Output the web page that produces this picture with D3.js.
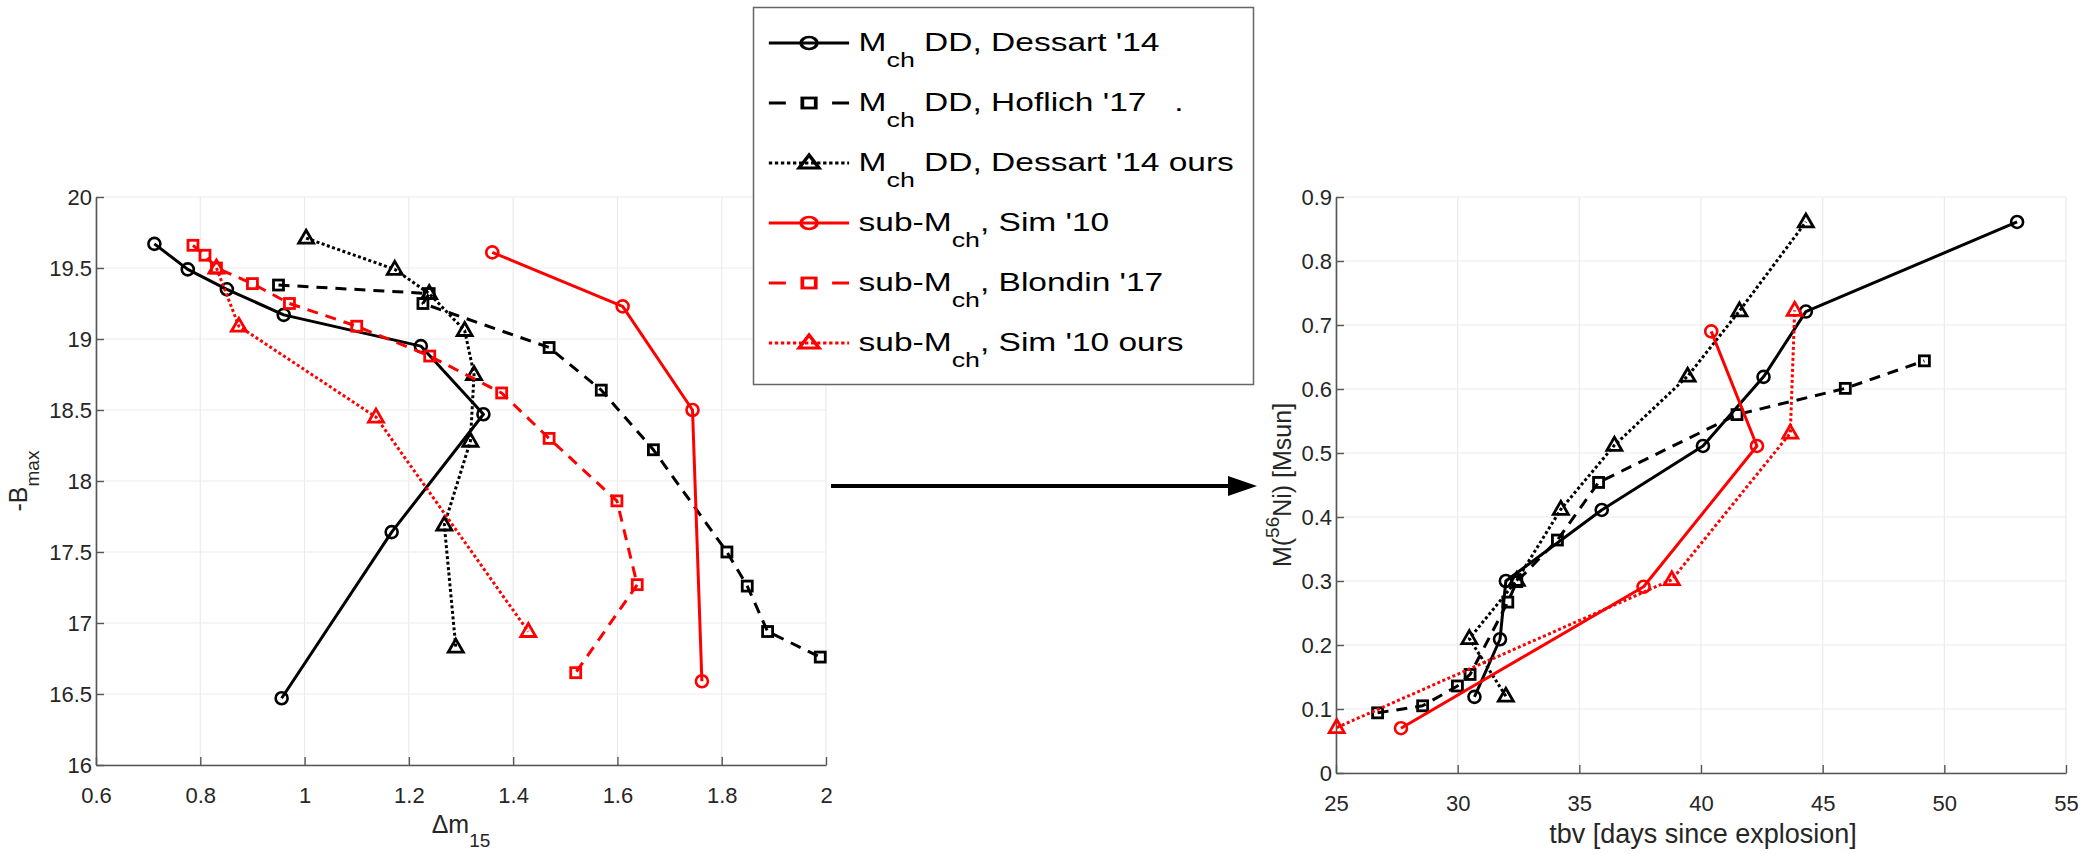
<!DOCTYPE html>
<html>
<head>
<meta charset="utf-8">
<script src="https://cdn.jsdelivr.net/npm/d3@7"></script>
<style>
  body { margin: 0; background: #fff; }
  text { font-family: "Liberation Sans", Arial, sans-serif; }
</style>
</head>
<body>
<div id="container"></div>
<script>
const width = 2084;
const height = 854;

// ---- left panel: -B_max vs delta m15 ----
const leftXTicks = [0.6, 0.8, 1, 1.2, 1.4, 1.6, 1.8, 2];
const leftYTicks = [16, 16.5, 17, 17.5, 18, 18.5, 19, 19.5, 20];

const dessartDm = [0.712, 0.776, 0.851, 0.960, 1.223, 1.343, 1.167, 0.956];
const dessartB = [19.67, 19.49, 19.35, 19.17, 18.95, 18.47, 17.64, 16.47];
const hoflichDm = [0.950, 1.239, 1.227, 1.469, 1.569, 1.669, 1.810, 1.849, 1.888, 1.989];
const hoflichB = [19.38, 19.32, 19.25, 18.94, 18.64, 18.22, 17.50, 17.26, 16.94, 16.76];
const dessartOursDm = [1.003, 1.173, 1.239, 1.307, 1.325, 1.318, 1.268, 1.290];
const dessartOursB = [19.71, 19.49, 19.32, 19.06, 18.75, 18.28, 17.69, 16.83];
const simDm = [1.360, 1.610, 1.744, 1.762];
const simB = [19.61, 19.23, 18.50, 16.59];
const blondinDm = [0.786, 0.809, 0.831, 0.900, 0.971, 1.100, 1.240, 1.378, 1.469, 1.599, 1.638, 1.520];
const blondinB = [19.66, 19.59, 19.50, 19.39, 19.25, 19.09, 18.88, 18.62, 18.30, 17.86, 17.27, 16.65];
const simOursDm = [0.831, 0.874, 1.137, 1.429];
const simOursB = [19.50, 19.09, 18.45, 16.94];

// ---- right panel: M(56Ni) vs tbv ----
const rightXTicks = [25, 30, 35, 40, 45, 50, 55];
const rightYTicks = [0, 0.1, 0.2, 0.3, 0.4, 0.5, 0.6, 0.7, 0.8, 0.9];

const dessartT = [30.69, 31.74, 31.98, 35.92, 40.08, 42.57, 44.31, 52.99];
const dessartNi = [0.119, 0.209, 0.300, 0.411, 0.511, 0.619, 0.721, 0.861];
const hoflichT = [26.71, 28.56, 29.99, 30.51, 32.06, 32.43, 34.10, 35.79, 41.48, 45.93, 49.18];
const hoflichNi = [0.094, 0.105, 0.136, 0.154, 0.267, 0.299, 0.364, 0.454, 0.560, 0.601, 0.644];
const dessartOursT = [31.98, 30.48, 32.43, 34.24, 36.44, 39.45, 41.58, 44.31];
const dessartOursNi = [0.120, 0.210, 0.301, 0.412, 0.512, 0.620, 0.722, 0.861];
const simT = [27.67, 37.64, 42.30, 40.42];
const simNi = [0.070, 0.291, 0.511, 0.690];
const simOursT = [25.03, 38.80, 43.67, 43.85];
const simOursNi = [0.071, 0.302, 0.531, 0.723];

// legend entries: [text, isSubscript]
const legendLabels = [
  [["M", 0], ["ch", 1], [" DD, Dessart '14", 0]],
  [["M", 0], ["ch", 1], [" DD, Hoflich '17\u00a0\u00a0\u00a0.", 0]],
  [["M", 0], ["ch", 1], [" DD, Dessart '14 ours", 0]],
  [["sub-M", 0], ["ch", 1], [", Sim '10", 0]],
  [["sub-M", 0], ["ch", 1], [", Blondin '17", 0]],
  [["sub-M", 0], ["ch", 1], [", Sim '10 ours", 0]]
];

// series styles (legend order)
const styles = [
  {color: "#000", dash: null, marker: "circle"},
  {color: "#000", dash: "11,8", marker: "square"},
  {color: "#000", dash: "3,2.5", marker: "triangle"},
  {color: "#f00", dash: null, marker: "circle"},
  {color: "#f00", dash: "11,8", marker: "square"},
  {color: "#f00", dash: "3,2.5", marker: "triangle"}
];

function zip(xs, ys) {
  return xs.map(function(x, i) { return {x: x, y: ys[i]}; });
}

const leftSeries = [
  zip(dessartDm, dessartB), zip(hoflichDm, hoflichB), zip(dessartOursDm, dessartOursB),
  zip(simDm, simB), zip(blondinDm, blondinB), zip(simOursDm, simOursB)
];
const rightSeries = [
  zip(dessartT, dessartNi), zip(hoflichT, hoflichNi), zip(dessartOursT, dessartOursNi),
  zip(simT, simNi), null, zip(simOursT, simOursNi)
];

const svg = d3.select("#container").append("svg")
    .attr("width", width)
    .attr("height", height);

svg.append("rect").attr("width", width).attr("height", height).attr("fill", "#fff");

function drawMarker(g, kind, cx, cy, color) {
  if (kind === "circle") {
    g.append("circle").attr("cx", cx).attr("cy", cy).attr("r", 6)
      .attr("fill", "none").attr("stroke", color).attr("stroke-width", 2.6);
  } else if (kind === "square") {
    g.append("rect").attr("x", cx - 5).attr("y", cy - 5).attr("width", 10).attr("height", 10)
      .attr("fill", "none").attr("stroke", color).attr("stroke-width", 2.8);
  } else {
    g.append("path")
      .attr("d", "M" + cx + "," + (cy - 8) + "L" + (cx + 7.5) + "," + (cy + 5) + "L" + (cx - 7.5) + "," + (cy + 5) + "Z")
      .attr("fill", "none").attr("stroke", color).attr("stroke-width", 2.8)
      .attr("stroke-linejoin", "miter");
  }
}

function drawPanel(opts) {
  const x = d3.scaleLinear().domain(opts.xDomain).range([opts.left, opts.right]);
  const y = d3.scaleLinear().domain(opts.yDomain).range([opts.bottom, opts.top]);
  const g = svg.append("g");

  // grid
  g.selectAll(".gx").data(opts.xTicks).enter().append("line")
    .attr("x1", function(d) { return x(d); }).attr("x2", function(d) { return x(d); })
    .attr("y1", opts.top).attr("y2", opts.bottom)
    .attr("stroke", "#ebebeb").attr("stroke-width", 1.2);
  g.selectAll(".gy").data(opts.yTicks).enter().append("line")
    .attr("y1", function(d) { return y(d); }).attr("y2", function(d) { return y(d); })
    .attr("x1", opts.left).attr("x2", opts.right)
    .attr("stroke", "#ebebeb").attr("stroke-width", 1.2);

  // axes, ticks pointing inward
  const xAxis = d3.axisBottom(x).tickValues(opts.xTicks).tickSizeInner(-8).tickSizeOuter(0)
    .tickPadding(22).tickFormat(d3.format("~g"));
  const yAxis = d3.axisLeft(y).tickValues(opts.yTicks).tickSizeInner(-8).tickSizeOuter(0)
    .tickPadding(12).tickFormat(d3.format("~g"));
  const ax = g.append("g").attr("transform", "translate(0," + opts.bottom + ")").call(xAxis);
  const ay = g.append("g").attr("transform", "translate(" + opts.left + ",0)").call(yAxis);
  [ax, ay].forEach(function(a) {
    a.select(".domain").attr("stroke", "#555").attr("stroke-width", 1.6);
    a.selectAll(".tick line").attr("stroke", "#555").attr("stroke-width", 1.4);
    a.selectAll(".tick text").attr("fill", "#262626").style("font-size", "22px")
      .style("font-family", "'Liberation Sans', Arial, sans-serif");
  });
  ay.selectAll(".tick text").attr("x", -4);

  const line = d3.line().x(function(d) { return x(d.x); }).y(function(d) { return y(d.y); });

  opts.series.forEach(function(s, i) {
    if (!s) return;
    const st = styles[i];
    const sg = g.append("g");
    sg.append("path").datum(s).attr("d", line)
      .attr("fill", "none").attr("stroke", st.color).attr("stroke-width", 3)
      .attr("stroke-dasharray", st.dash).attr("stroke-linejoin", "round");
    s.forEach(function(p) { drawMarker(sg, st.marker, x(p.x), y(p.y), st.color); });
  });
  return g;
}

drawPanel({
  xDomain: [0.6, 2], yDomain: [16, 20], left: 96, right: 826, top: 197, bottom: 765,
  xTicks: leftXTicks, yTicks: leftYTicks, series: leftSeries
});
drawPanel({
  xDomain: [25, 55], yDomain: [0, 0.9], left: 1336, right: 2066, top: 197, bottom: 773,
  xTicks: rightXTicks, yTicks: rightYTicks, series: rightSeries
});

// axis labels
const lab = svg.append("g").attr("fill", "#262626");
const xl = lab.append("text").attr("x", 461).attr("y", 833).attr("text-anchor", "middle").style("font-size", "25px");
xl.append("tspan").text("\u0394m");
xl.append("tspan").attr("dy", 14).style("font-size", "19px").text("15");

const yl = lab.append("text").attr("transform", "translate(27,481) rotate(-90)")
  .attr("text-anchor", "middle").style("font-size", "25px");
yl.append("tspan").text("-B");
yl.append("tspan").attr("dy", 12).style("font-size", "19px").text("max");

lab.append("text").attr("x", 1703).attr("y", 843).attr("text-anchor", "middle")
  .style("font-size", "27px").text("tbv [days since explosion]");

const yr = lab.append("text").attr("transform", "translate(1291,485) rotate(-90)")
  .attr("text-anchor", "middle").style("font-size", "25px");
yr.append("tspan").text("M(");
yr.append("tspan").attr("dy", -12).style("font-size", "19px").text("56");
yr.append("tspan").attr("dy", 12).text("Ni) [Msun]");

// arrow between panels
svg.append("line").attr("x1", 831).attr("x2", 1232).attr("y1", 486).attr("y2", 486)
  .attr("stroke", "#000").attr("stroke-width", 4);
svg.append("path").attr("d", "M1228,476L1257,486L1228,496Z").attr("fill", "#000");

// legend (the original legend is stretched horizontally)
const legBox = svg.append("g");
legBox.append("rect").attr("x", 753.5).attr("y", 7.5).attr("width", 500).attr("height", 377)
  .attr("fill", "#fff").attr("stroke", "#666").attr("stroke-width", 1.5);
const leg = svg.append("g").attr("transform", "translate(753.7,0) scale(1.34,1)");
legendLabels.forEach(function(parts, i) {
  const cy = 43 + i * 60;
  const st = styles[i];
  const sg = leg.append("g");
  if (st.dash === "11,8") {
    sg.append("line").attr("x1", 11.3).attr("x2", 24).attr("y1", cy).attr("y2", cy)
      .attr("stroke", st.color).attr("stroke-width", 3);
    sg.append("line").attr("x1", 58.5).attr("x2", 71.2).attr("y1", cy).attr("y2", cy)
      .attr("stroke", st.color).attr("stroke-width", 3);
  } else {
    sg.append("line").attr("x1", 11.3).attr("x2", 71.2).attr("y1", cy).attr("y2", cy)
      .attr("stroke", st.color).attr("stroke-width", 3)
      .attr("stroke-dasharray", st.dash ? "2.5,2" : null);
  }
  drawMarker(sg, st.marker, 41.3, cy, st.color);
  const t = leg.append("text").attr("x", 78.3).attr("y", cy + 8).style("font-size", "25px")
    .attr("fill", "#000");
  let shifted = 0;
  parts.forEach(function(p) {
    const sp = t.append("tspan").text(p[0]);
    if (p[1] && !shifted) { sp.attr("dy", 16).style("font-size", "20px"); shifted = 1; }
    else if (!p[1] && shifted) { sp.attr("dy", -16); shifted = 0; }
  });
});
</script>
</body>
</html>
